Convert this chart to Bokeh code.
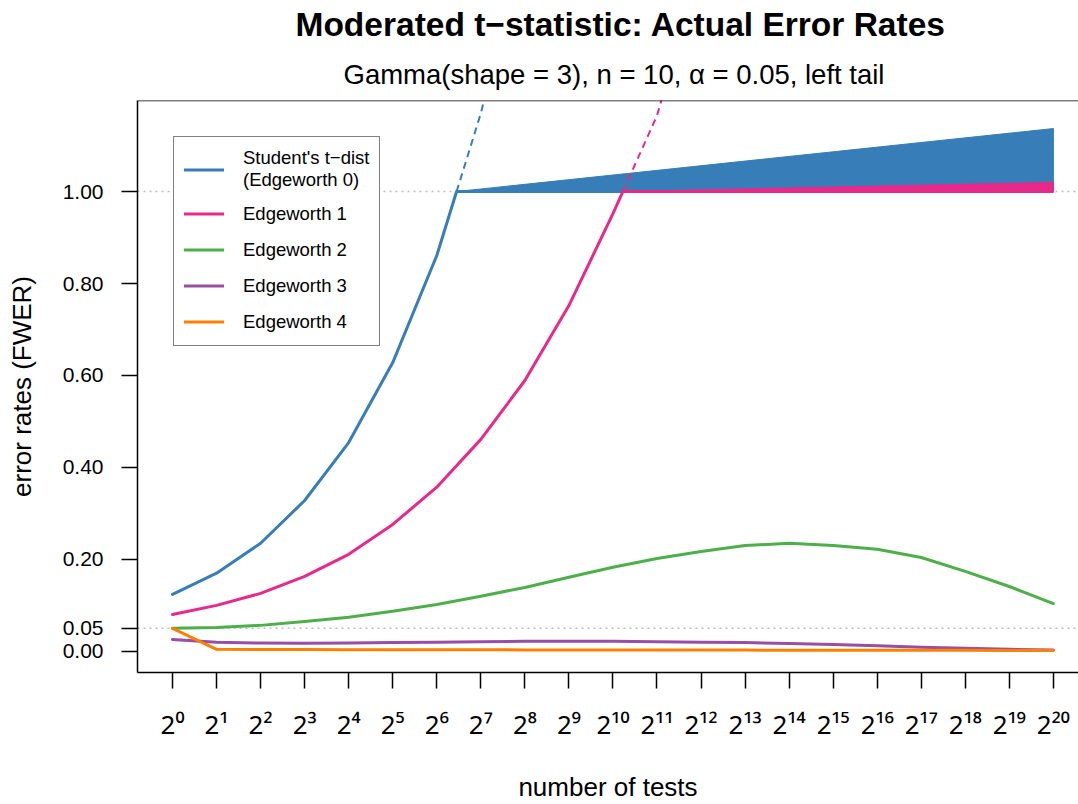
from bokeh.plotting import figure
from bokeh.models import (Range1d, FixedTicker, Span, Title, Legend, LegendItem)
from bokeh.embed import file_html
from bokeh.resources import INLINE

# ---- data -----------------------------------------------------------------
exponents = list(range(21))                     # number of tests = 2^k
y_ticks = [0.0, 0.05, 0.2, 0.4, 0.6, 0.8, 1.0]
y_tick_labels = ["0.00", "0.05", "0.20", "0.40", "0.60", "0.80", "1.00"]

# FWER per method (values above 1 run off the top of the panel)
student_t = [0.124, 0.170, 0.235, 0.328, 0.454, 0.628, 0.861, 1.17, 1.55]
edgeworth1 = [0.080, 0.100, 0.126, 0.163, 0.211, 0.276, 0.357, 0.461, 0.589,
              0.752, 0.952, 1.165, 1.50]
edgeworth2 = [0.050, 0.052, 0.0565, 0.065, 0.074, 0.087, 0.102, 0.120, 0.139,
              0.161, 0.183, 0.202, 0.217, 0.230, 0.235, 0.230, 0.222, 0.204,
              0.174, 0.141, 0.104]
edgeworth3 = [0.026, 0.020, 0.018, 0.0175, 0.018, 0.019, 0.020, 0.021, 0.022,
              0.022, 0.022, 0.021, 0.020, 0.019, 0.017, 0.015, 0.012, 0.009,
              0.0065, 0.0045, 0.003]
edgeworth4 = [0.050, 0.0045, 0.004, 0.0038, 0.0036, 0.0035, 0.0034, 0.0033,
              0.0032, 0.0031, 0.0030, 0.0029, 0.0028, 0.0027, 0.0026, 0.0025,
              0.0024, 0.0023, 0.0022, 0.0021, 0.0020]

# height of the "over 1" wedge at the largest number of tests
student_t_excess = 1.137
edgeworth1_excess = 1.020

alpha = 0.05
labels = ["Student's t\u2212dist\n(Edgeworth 0)", "Edgeworth 1", "Edgeworth 2",
          "Edgeworth 3", "Edgeworth 4"]
colors = ["#377EB8", "#E7298A", "#4DAF4A", "#984EA3", "#FF7F00"]

FONT = "Liberation Sans"
TICK_FONT = "Noto Sans"          # has the full set of superscript digits
SUP = str.maketrans("0123456789", "\u2070\u00b9\u00b2\u00b3\u2074\u2075\u2076\u2077\u2078\u2079")


def split_at_one(vals):
    """Split a series where it first exceeds 1: solid part, dashed overshoot."""
    xs = exponents[:len(vals)]
    k = next(i for i, v in enumerate(vals) if v > 1)
    cross = xs[k - 1] + (1 - vals[k - 1]) / (vals[k] - vals[k - 1])
    solid = (xs[:k] + [cross], vals[:k] + [1.0])
    flat = ([cross, exponents[-1]], [1.0, 1.0])
    dashed = ([cross] + xs[k:], [1.0] + vals[k:])
    return cross, solid, flat, dashed


# ---- figure ---------------------------------------------------------------
p = figure(width=1078, height=804, output_backend="svg", toolbar_location=None,
           x_range=Range1d(-0.795, 20.57), y_range=Range1d(-0.046, 1.198),
           min_border_left=137, min_border_right=0, min_border_top=100,
           min_border_bottom=132)
p.outline_line_color = None
p.xgrid.visible = False
p.ygrid.visible = False
p.background_fill_color = "white"
p.border_fill_color = "white"

# reference levels
for lvl in (1.0, alpha):
    p.add_layout(Span(location=lvl, dimension="width", line_color="#BEBEBE",
                      line_width=1.5, line_dash="2 4", level="underlay"))
# top edge of the box
p.add_layout(Span(location=1.198, dimension="width", line_color="black",
                  line_width=1.5))

key_renderers = []
# series that overshoot 1: dashed overshoot, solid part, wedge above 1
for vals, top, col in ((student_t, student_t_excess, colors[0]),
                       (edgeworth1, edgeworth1_excess, colors[1])):
    cross, solid, flat, dashed = split_at_one(vals)
    p.line(dashed[0], dashed[1], line_color=col, line_width=2, line_dash="7 5")
    r = p.line(solid[0], solid[1], line_color=col, line_width=3,
               line_join="round", line_cap="round")
    key_renderers.append(r)
    p.line(flat[0], flat[1], line_color=col, line_width=3)
    p.patch([cross, exponents[-1], exponents[-1]], [1.0, top, 1.0],
            fill_color=col, line_color=col, line_width=1)

for vals, col in ((edgeworth2, colors[2]), (edgeworth3, colors[3]),
                  (edgeworth4, colors[4])):
    r = p.line(exponents, vals, line_color=col, line_width=3,
               line_join="round", line_cap="round")
    key_renderers.append(r)

# ---- axes -----------------------------------------------------------------
xa = p.xaxis[0]
xa.ticker = FixedTicker(ticks=exponents)
xa.major_label_overrides = {k: "2" + str(k).translate(SUP) for k in exponents}
xa.major_label_text_font = TICK_FONT
xa.major_label_text_font_size = "26px"
xa.major_label_standoff = 17
xa.axis_label = "number of tests"
xa.axis_label_text_font = FONT
xa.axis_label_text_font_size = "26px"
xa.axis_label_text_font_style = "normal"
xa.axis_label_standoff = 27

ya = p.yaxis[0]
ya.ticker = FixedTicker(ticks=y_ticks)
ya.major_label_overrides = dict(zip(y_ticks, y_tick_labels))
ya.major_label_orientation = "horizontal"
ya.major_label_text_font = FONT
ya.major_label_text_font_size = "21px"
ya.major_label_standoff = 18
ya.axis_label = "error rates (FWER)"
ya.axis_label_text_font = FONT
ya.axis_label_text_font_size = "26px"
ya.axis_label_text_font_style = "normal"
ya.axis_label_standoff = 23

for ax in (xa, ya):
    ax.axis_line_color = "black"
    ax.axis_line_width = 1.5
    ax.major_tick_line_color = "black"
    ax.major_tick_line_width = 1.5
    ax.major_tick_out = 16
    ax.major_tick_in = 0
    ax.minor_tick_line_color = None
    ax.major_label_text_color = "black"
    ax.axis_label_text_color = "black"

# ---- titles ---------------------------------------------------------------
p.add_layout(Title(text="Gamma(shape = 3), n = 10, \u03b1 = 0.05, left tail",
                   align="left", offset=206, text_font=FONT,
                   text_font_size="27.5px", text_font_style="normal",
                   text_color="black", standoff=22), "above")
p.add_layout(Title(text="Moderated t\u2212statistic: Actual Error Rates",
                   align="left", offset=158, text_font=FONT,
                   text_font_size="33.5px", text_font_style="bold",
                   text_color="black", standoff=5), "above")

# ---- legend ---------------------------------------------------------------
legend = Legend(items=[LegendItem(label=l, renderers=[r])
                       for l, r in zip(labels, key_renderers)],
                location="top_left", margin=36, padding=10, spacing=9,
                label_height=27, glyph_height=27, glyph_width=40,
                label_standoff=19, border_line_color="black",
                border_line_width=1.5, background_fill_color="white",
                background_fill_alpha=1.0, label_text_font=FONT,
                label_text_font_size="18.5px", label_text_color="black")
p.add_layout(legend)

open("out.html", "w").write(file_html(p, INLINE))
